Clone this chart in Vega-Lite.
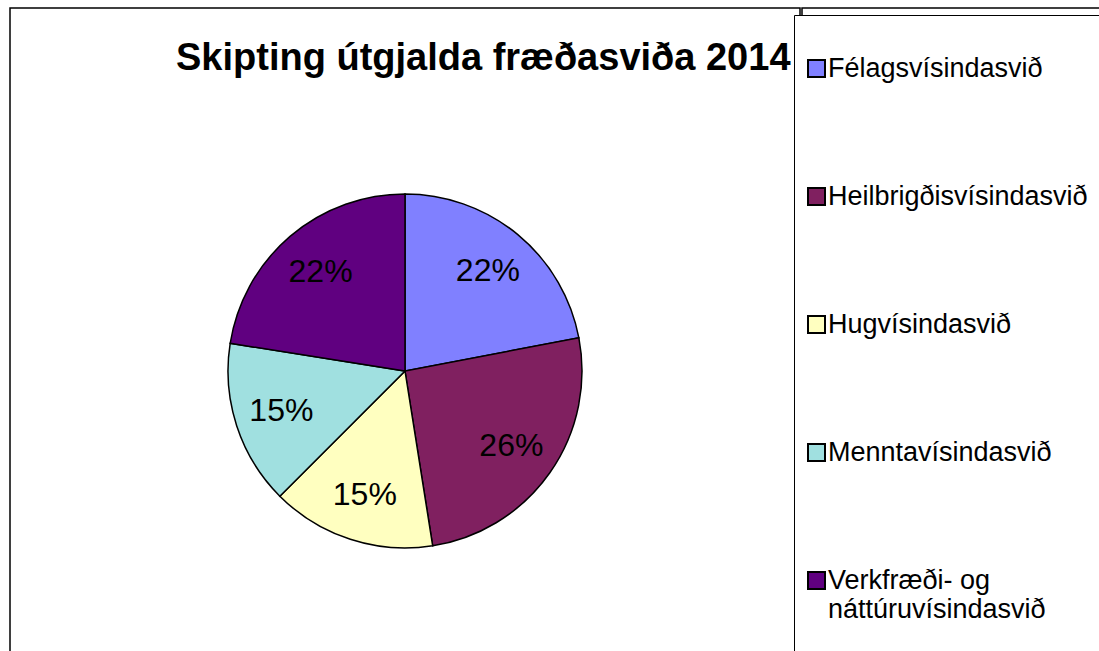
{
  "$schema": "https://vega.github.io/schema/vega-lite/v6.json",
  "padding": {"left": 9, "top": 7, "right": 0, "bottom": 0},
  "background": "white",
  "spacing": 0,
  "config": {
    "view": {"stroke": "black", "strokeWidth": 1.5},
    "font": "Liberation Sans"
  },
  "hconcat": [
    {
      "width": 790,
      "height": 726,
      "view": {"stroke": "black", "strokeWidth": 1.5},
      "title": {
        "text": "Skipting útgjalda fræðasviða 2014",
        "anchor": "start",
        "dx": 166,
        "offset": -100,
        "baseline": "alphabetic",
        "fontSize": 38,
        "fontWeight": "bold",
        "font": "Liberation Sans",
        "color": "black"
      },
      "data": {
        "values": [
          {"cat": "Félagsvísindasvið", "value": 22.0, "label": "22%"},
          {"cat": "Heilbrigðisvísindasvið", "value": 25.5, "label": "26%"},
          {"cat": "Hugvísindasvið", "value": 15.0, "label": "15%"},
          {"cat": "Menntavísindasvið", "value": 15.0, "label": "15%"},
          {"cat": "Verkfræði- og náttúruvísindasvið", "value": 22.5, "label": "22%"}
        ]
      },
      "encoding": {
        "theta": {"field": "value", "type": "quantitative", "stack": true},
        "order": {"field": "cat", "type": "nominal", "sort": "ascending"}
      },
      "layer": [
        {
          "mark": {"type": "arc", "outerRadius": 177, "stroke": "black", "strokeWidth": 1.5},
          "encoding": {
            "color": {
              "field": "cat",
              "type": "nominal",
              "scale": {
                "domain": ["Félagsvísindasvið", "Heilbrigðisvísindasvið", "Hugvísindasvið", "Menntavísindasvið", "Verkfræði- og náttúruvísindasvið"],
                "range": ["#8080FF", "#802060", "#FFFFC0", "#A0E0E0", "#600080"]
              },
              "legend": {
                "title": "\u00a0\u00a0\u00a0\u00a0\u00a0\u00a0\u00a0\u00a0\u00a0\u00a0\u00a0\u00a0\u00a0\u00a0\u00a0\u00a0\u00a0\u00a0\u00a0\u00a0\u00a0\u00a0\u00a0\u00a0\u00a0\u00a0\u00a0\u00a0\u00a0\u00a0\u00a0\u00a0\u00a0\u00a0\u00a0\u00a0\u00a0\u00a0\u00a0\u00a0\u00a0\u00a0\u00a0\u00a0\u00a0\u00a0\u00a0\u00a0\u00a0\u00a0\u00a0\u00a0\u00a0\u00a0\u00a0\u00a0\u00a0\u00a0\u00a0\u00a0\u00a0\u00a0\u00a0\u00a0\u00a0\u00a0\u00a0\u00a0\u00a0\u00a0\u00a0\u00a0\u00a0\u00a0\u00a0\u00a0\u00a0\u00a0\u00a0\u00a0\u00a0\u00a0\u00a0\u00a0\u00a0\u00a0\u00a0\u00a0\u00a0\u00a0\u00a0\u00a0\u00a0\u00a0\u00a0\u00a0\u00a0\u00a0\u00a0\u00a0\u00a0\u00a0\u00a0\u00a0\u00a0\u00a0\u00a0\u00a0",
                "titleFontSize": 10,
                "titlePadding": 18,
                "titleLimit": 2000,
                "orient": "none",
                "legendX": 784,
                "legendY": 7,
                "padding": 12,
                "strokeColor": "black",
                "fillColor": "white",
                "symbolType": "square",
                "symbolSize": 289,
                "symbolStrokeColor": "black",
                "symbolStrokeWidth": 2,
                "symbolOpacity": 1,
                "symbolOffset": -3,
                "labelFontSize": 27,
                "labelFont": "Liberation Sans",
                "labelColor": "black",
                "labelLimit": 400,
                "labelOffset": -2,
                "rowPadding": 100,
                "labelExpr": "datum.label == 'Verkfræði- og náttúruvísindasvið' ? ['Verkfræði- og', 'náttúruvísindasvið', '\u00a0'] : datum.label"
              }
            }
          }
        },
        {
          "mark": {"type": "text", "radius": 130, "fontSize": 32, "font": "Liberation Sans", "fill": "black"},
          "encoding": {
            "text": {"field": "label", "type": "nominal"}
          }
        }
      ]
    },
    {
      "width": 320,
      "height": 726,
      "view": {"stroke": "black", "strokeWidth": 1.5},
      "data": {"values": [{"t": ""}]},
      "mark": {"type": "text"},
      "encoding": {"text": {"field": "t", "type": "nominal"}}
    }
  ]
}
